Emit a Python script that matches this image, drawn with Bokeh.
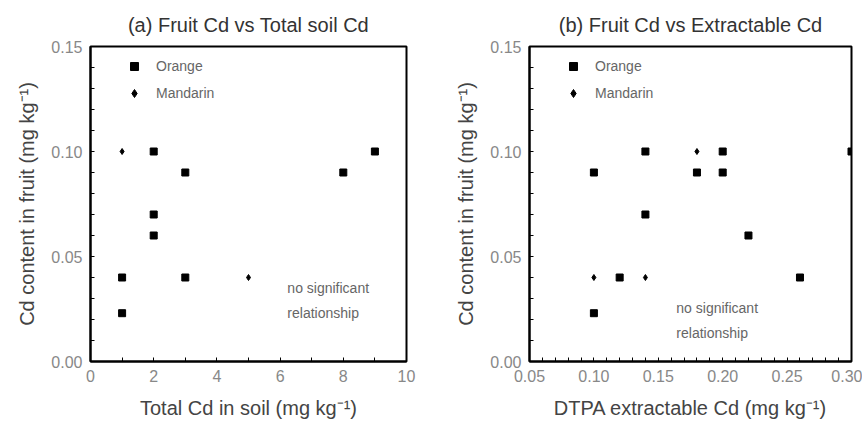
from bokeh.plotting import figure
from bokeh.layouts import row
from bokeh.models import FixedTicker, Legend, LegendItem, Label, NumeralTickFormatter
from bokeh.embed import file_html
from bokeh.resources import INLINE

# ---- data ----
# (a) total soil Cd
a_orange_x = [1, 1, 2, 2, 2, 3, 3, 8, 9]
a_orange_y = [0.040, 0.023, 0.100, 0.070, 0.060, 0.090, 0.040, 0.090, 0.100]
a_mand_x = [1, 5]
a_mand_y = [0.100, 0.040]

# (b) DTPA extractable Cd
b_orange_x = [0.10, 0.10, 0.12, 0.14, 0.14, 0.18, 0.20, 0.20, 0.22, 0.26, 0.30]
b_orange_y = [0.090, 0.023, 0.040, 0.100, 0.070, 0.090, 0.100, 0.090, 0.060, 0.040, 0.100]
b_mand_x = [0.10, 0.14, 0.18]
b_mand_y = [0.040, 0.040, 0.100]

a_xticks = [0, 2, 4, 6, 8, 10]
a_xminor = [1, 3, 5, 7, 9]
b_xticks = [0.05, 0.10, 0.15, 0.20, 0.25, 0.30]
b_xminor = [0.06, 0.07, 0.08, 0.09, 0.11, 0.12, 0.13, 0.14, 0.16, 0.17, 0.18, 0.19,
            0.21, 0.22, 0.23, 0.24, 0.26, 0.27, 0.28, 0.29]
yticks = [0.00, 0.05, 0.10, 0.15]
yminor = [0.01, 0.02, 0.03, 0.04, 0.06, 0.07, 0.08, 0.09, 0.11, 0.12, 0.13, 0.14]

titles = ["(a) Fruit Cd vs Total soil Cd", "(b) Fruit Cd vs Extractable Cd"]
xlabels = ["Total Cd in soil (mg kg\u207b\u00b9)", "DTPA extractable Cd (mg kg\u207b\u00b9)"]
ylabel = "Cd content in fruit (mg kg\u207b\u00b9)"
note = ["no significant", "relationship"]

FONT = "Liberation Sans"


def make(title, xr, xt, xm, xfmt, xlabel, ox, oy, mx, my, note_x, note_y, width, bl, br):
    p = figure(width=width, height=421, x_range=xr, y_range=(0, 0.15),
               output_backend="svg", toolbar_location=None,
               min_border_left=bl, min_border_right=br,
               min_border_top=46, min_border_bottom=57)
    p.title.text = title
    p.title.align = "center"
    p.title.text_font = FONT
    p.title.text_font_size = "20px"
    p.title.text_font_style = "normal"
    p.title.text_color = "#333333"
    p.title.standoff = 22
    p.grid.visible = False
    p.outline_line_color = "black"
    p.outline_line_width = 2

    for ax, t, m in ((p.xaxis[0], xt, xm), (p.yaxis[0], yticks, yminor)):
        ax.ticker = FixedTicker(ticks=t, minor_ticks=m)
        ax.axis_line_width = 2
        ax.axis_line_color = "black"
        ax.major_tick_in = 4
        ax.major_tick_out = 0
        ax.minor_tick_in = 4
        ax.minor_tick_out = 0
        ax.major_label_text_font = FONT
        ax.major_label_text_font_size = "16px"
        ax.major_label_text_color = "#888888"
        ax.major_label_standoff = 8
        ax.axis_label_text_font = FONT
        ax.axis_label_text_font_size = "20px"
        ax.axis_label_text_font_style = "normal"
        ax.axis_label_text_color = "#444444"
    p.xaxis.axis_label_standoff = 12
    p.yaxis.axis_label_standoff = 10
    p.xaxis.axis_label = xlabel
    p.yaxis.axis_label = ylabel
    p.yaxis.formatter = NumeralTickFormatter(format="0.00")
    p.xaxis.formatter = NumeralTickFormatter(format=xfmt)

    r1 = p.scatter(ox, oy, marker="square", size=7, color="black")
    r2 = p.scatter(mx, my, marker="diamond", size=6, color="black")

    leg = Legend(items=[LegendItem(label="Orange", renderers=[r1]),
                        LegendItem(label="Mandarin", renderers=[r2])],
                 location=(34, 258),
                 background_fill_color=None, border_line_color=None,
                 margin=0, padding=0, spacing=7, label_standoff=12,
                 label_text_font=FONT, label_text_font_size="14px",
                 label_text_color="#666666")
    p.add_layout(leg, "center")

    for txt, yy in zip(note, note_y):
        p.add_layout(Label(x=note_x, y=yy, text=txt, text_font=FONT,
                           text_font_size="14px", text_color="#666666",
                           text_baseline="middle", text_align="left"))
    return p


pa = make(titles[0], (0, 10), a_xticks, a_xminor, "0", xlabels[0],
          a_orange_x, a_orange_y, a_mand_x, a_mand_y,
          6.23, [0.0351, 0.0233], 448, 90, 42)
pb = make(titles[1], (0.05, 0.30), b_xticks, b_xminor, "0.00", xlabels[1],
          b_orange_x, b_orange_y, b_mand_x, b_mand_y,
          0.164, [0.0256, 0.0138], 414, 81, 11)

layout = row(pa, pb)
open("out.html", "w").write(file_html(layout, INLINE))
